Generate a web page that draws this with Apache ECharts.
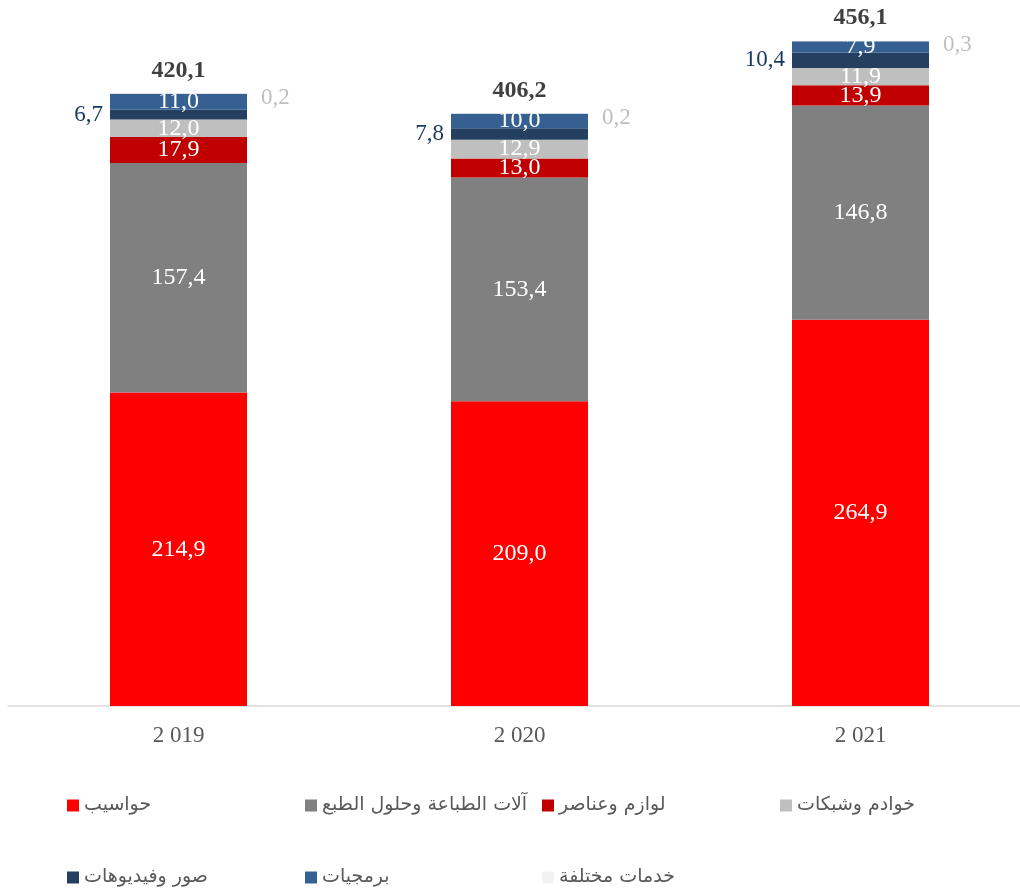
<!DOCTYPE html>
<html>
<head>
<meta charset="utf-8">
<script src="https://cdn.jsdelivr.net/npm/echarts@6/dist/echarts.min.js"></script>
<style>
  html, body { margin: 0; padding: 0; background: #fff; }
  #chart { width: 1020px; height: 890px; }
</style>
</head>
<body>
<div id="chart"></div>
<script>
const years = ['2 019', '2 020', '2 021'];
const seriesNames = ['حواسيب', 'آلات الطباعة وحلول الطبع', 'لوازم وعناصر', 'خوادم وشبكات', 'صور وفيديوهات', 'برمجيات', 'خدمات مختلفة'];
const computers = [214.9, 209.0, 264.9];
const printers = [157.4, 153.4, 146.8];
const supplies = [17.9, 13.0, 13.9];
const servers = [12.0, 12.9, 11.9];
const video = [6.7, 7.8, 10.4];
const software = [11.0, 10.0, 7.9];
const services = [0.2, 0.2, 0.3];
const totals = [420.1, 406.2, 456.1];
const colors = ['#ff0000', '#808080', '#c00000', '#bfbfbf', '#243f60', '#376092', '#f2f2f2'];

const fmt = function (v) { return Number(v).toFixed(1).replace('.', ','); };
const serif = 'Liberation Serif, Times New Roman, serif';

const values = [computers, printers, supplies, servers, video, software, services];

const labelFor = function (i) {
  if (i === 4) {
    return { show: true, position: 'left', distance: 7, color: '#17375e', fontSize: 23, fontFamily: serif, formatter: function (p) { return fmt(p.value); } };
  }
  if (i === 6) {
    return { show: true, position: 'right', distance: 14, offset: [0, 4], color: '#bfbfbf', fontSize: 23, fontFamily: serif, formatter: function (p) { return fmt(p.value); } };
  }
  return { show: true, position: 'inside', color: '#ffffff', fontSize: 24, fontFamily: serif, formatter: function (p) { return fmt(p.value); } };
};

let series = [];
for (let i = 0; i < seriesNames.length; i++) {
  series.push({
    name: seriesNames[i],
    type: 'bar',
    stack: 'total',
    barWidth: 137,
    itemStyle: { color: colors[i] },
    label: labelFor(i),
    data: values[i]
  });
}
// total label on top of the stack
series.push({
  name: 'total',
  type: 'bar',
  stack: 'total',
  barWidth: 137,
  itemStyle: { color: 'transparent' },
  label: {
    show: true, position: 'top', distance: 11, color: '#404040', fontWeight: 'bold', fontSize: 24, fontFamily: serif,
    formatter: function (p) { return fmt(totals[p.dataIndex]); }
  },
  data: [0, 0, 0]
});

const legendPos = [[67, 805], [305, 805], [542, 805], [780, 805], [67, 877], [305, 877], [542, 877]];
let legends = [];
for (let i = 0; i < seriesNames.length; i++) {
  legends.push({
    data: [seriesNames[i]],
    left: legendPos[i][0],
    top: legendPos[i][1] - 9,
    padding: 0,
    itemWidth: 12,
    itemHeight: 12,
    itemGap: 6,
    icon: 'rect',
    selectedMode: false,
    textStyle: { color: '#595959', fontSize: 19, padding: [0, 0, 0, 0], fontFamily: 'DejaVu Sans, Noto Sans, sans-serif' }
  });
}

const option = {
  animation: false,
  backgroundColor: '#ffffff',
  legend: legends,
  grid: { left: 8, top: 6, width: 1023, height: 700, containLabel: false, outerBoundsMode: 'none' },
  xAxis: {
    type: 'category',
    data: years,
    axisLine: { lineStyle: { color: '#d9d9d9', width: 1.5 } },
    axisTick: { show: false },
    axisLabel: { color: '#595959', fontSize: 23, fontFamily: serif, margin: 18 }
  },
  yAxis: {
    type: 'value',
    min: 0,
    max: 480,
    show: false,
    splitLine: { show: false }
  },
  series: series
};

const myChart = echarts.init(document.getElementById('chart'));
myChart.setOption(option);
</script>
</body>
</html>
